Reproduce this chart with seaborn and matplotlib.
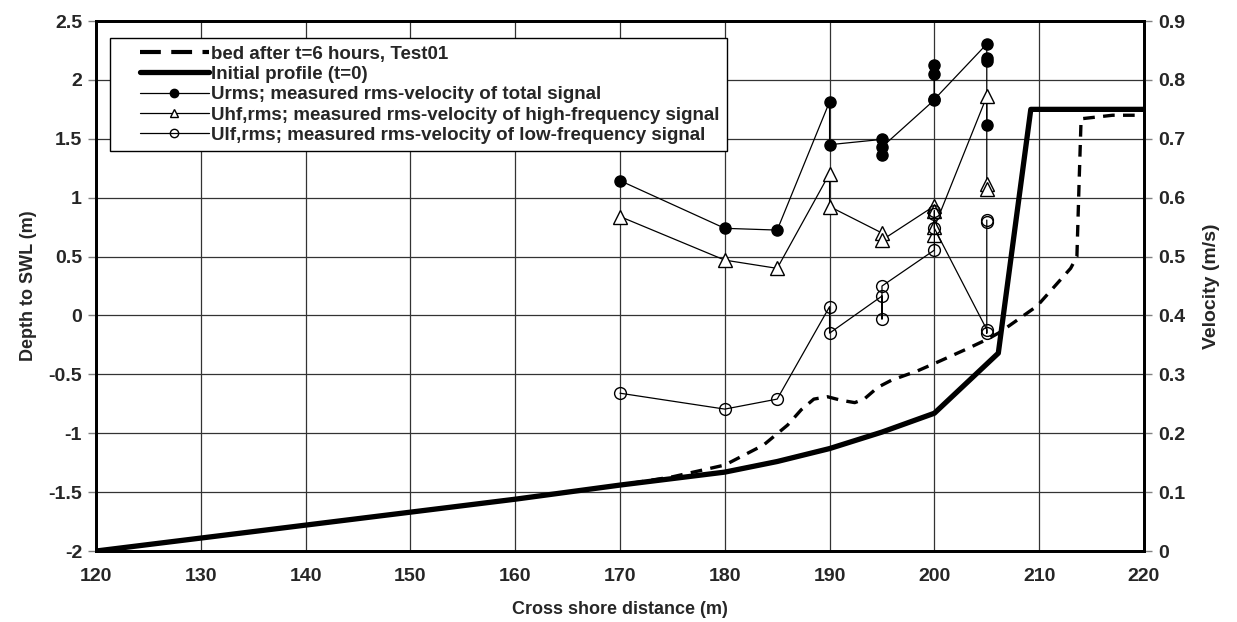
import matplotlib
matplotlib.use("Agg")
import matplotlib.pyplot as plt
import seaborn as sns
from matplotlib.ticker import FuncFormatter, MultipleLocator
from matplotlib.legend_handler import HandlerLine2D

# bed profiles, depth to SWL (m)
init_x = [120, 130, 140, 150, 160, 170, 180, 185, 190, 195, 200, 206.1, 209.2, 220]
init_y = [-2.0, -1.89, -1.78, -1.67, -1.56, -1.44, -1.33, -1.24, -1.13, -0.99, -0.83, -0.32, 1.75, 1.75]

bed_x = [120, 130, 140, 150, 160, 170, 175, 180, 183.7, 186, 187.3, 188.5, 189.8, 191.1, 192.4,
         193.3, 194.6, 195.9, 198.4, 200.2, 203.2, 205.1, 206.3, 209.8, 211.4, 213.0, 213.6,
         213.8, 214.0, 217, 220]
bed_y = [-2.0, -1.89, -1.78, -1.67, -1.56, -1.44, -1.37, -1.27, -1.10, -0.93, -0.80, -0.71, -0.69,
         -0.72, -0.74, -0.71, -0.61, -0.55, -0.47, -0.40, -0.28, -0.20, -0.14, 0.08, 0.24, 0.40,
         0.50, 1.10, 1.67, 1.70, 1.70]

# velocities (m/s), in the order they are joined
urms_x = [170, 180, 185, 190, 190, 195, 195, 195, 200, 200, 200, 200, 205, 205, 205, 205]
urms_v = [0.629, 0.548, 0.545, 0.763, 0.690, 0.699, 0.672, 0.686, 0.766, 0.826, 0.810, 0.767,
          0.861, 0.838, 0.832, 0.724]

uhf_x = [170, 180, 185, 190, 190, 195, 195, 200, 200, 200, 200, 205, 205, 205]
uhf_v = [0.568, 0.494, 0.480, 0.641, 0.585, 0.540, 0.528, 0.586, 0.577, 0.536, 0.550,
         0.772, 0.624, 0.614]

ulf_x = [170, 180, 185, 190, 190, 195, 195, 195, 200, 200, 200, 200, 205, 205, 205, 205]
ulf_v = [0.268, 0.241, 0.258, 0.415, 0.370, 0.433, 0.394, 0.450, 0.511, 0.578, 0.572, 0.548,
         0.376, 0.370, 0.558, 0.562]


class InsetHandler(HandlerLine2D):
    # draw the legend sample only over the right part of the handle box
    def create_artists(self, legend, orig_handle, xdescent, ydescent, width, height, fontsize, trans):
        off = width * 0.24
        return super().create_artists(legend, orig_handle, xdescent - off, ydescent,
                                      width - off, height, fontsize, trans)


sns.set_style("white")
plt.rcParams['font.family'] = ['Liberation Sans', 'DejaVu Sans']
plt.rcParams['font.weight'] = 'bold'
plt.rcParams['axes.unicode_minus'] = False

fig = plt.figure(figsize=(12.37, 6.22), dpi=100)
ax = fig.add_axes([0.0776, 0.1141, 0.8472, 0.8521])
ax2 = ax.twinx()

sns.lineplot(x=bed_x, y=bed_y, ax=ax, color='black', lw=2.4, linestyle=(0, (3.5, 2.5)),
             estimator=None, sort=False, legend=False, label='bed after t=6 hours, Test01')
sns.lineplot(x=init_x, y=init_y, ax=ax, color='black', lw=3.8,
             estimator=None, sort=False, legend=False, label='Initial profile (t=0)')

sns.lineplot(x=urms_x, y=urms_v, ax=ax2, color='black', lw=0.9, marker='o', markersize=8,
             markerfacecolor='black', markeredgecolor='black', markeredgewidth=1,
             estimator=None, sort=False, legend=False,
             label='Urms; measured rms-velocity of total signal')
sns.lineplot(x=uhf_x, y=uhf_v, ax=ax2, color='black', lw=0.9, marker='^', markersize=10,
             markerfacecolor='white', markeredgecolor='black', markeredgewidth=1,
             estimator=None, sort=False, legend=False,
             label='Uhf,rms; measured rms-velocity of high-frequency signal')
sns.lineplot(x=ulf_x, y=ulf_v, ax=ax2, color='black', lw=0.9, marker='o', markersize=8.5,
             markerfacecolor='none', markeredgecolor='black', markeredgewidth=1,
             estimator=None, sort=False, legend=False,
             label='Ulf,rms; measured rms-velocity of low-frequency signal')

ax.set_xlim(120, 220)
ax.set_ylim(-2, 2.5)
ax2.set_ylim(0, 0.9)
ax.xaxis.set_major_locator(MultipleLocator(10))
ax.yaxis.set_major_locator(MultipleLocator(0.5))
ax2.yaxis.set_major_locator(MultipleLocator(0.1))
fmt = FuncFormatter(lambda v, p: '%g' % round(v, 3))
ax.yaxis.set_major_formatter(fmt)
ax2.yaxis.set_major_formatter(fmt)

ax.grid(True, color='#333333', lw=0.9)
ax2.grid(False)
for a in (ax, ax2):
    for s in a.spines.values():
        s.set_color('black')
        s.set_linewidth(2)
    a.tick_params(axis='both', which='major', direction='out', length=6, width=1,
                  color='#808080', labelsize=14, pad=4)
ax.tick_params(axis='x', pad=6)

ax.set_xlabel('Cross shore distance (m)', fontsize=13, fontweight='bold', labelpad=12)
ax.set_ylabel('Depth to SWL (m)', fontsize=13, fontweight='bold', labelpad=8)
ax2.set_ylabel('Velocity (m/s)', fontsize=14, fontweight='bold', labelpad=13)

h1, l1 = ax.get_legend_handles_labels()
h2, l2 = ax2.get_legend_handles_labels()
leg = ax2.legend(h1 + h2, l1 + l2, loc='upper left', bbox_to_anchor=(0.0134, 0.968),
                 borderaxespad=0, fancybox=False, framealpha=1, edgecolor='black',
                 handlelength=4.9, handletextpad=0.1, labelspacing=0.17,
                 borderpad=0.4, prop={'weight': 'bold', 'size': 13.5},
                 handler_map={matplotlib.lines.Line2D: InsetHandler()})
leg.get_frame().set_linewidth(1)
leg.get_lines()[0].set_linestyle((0, (5, 2.5)))
leg.get_lines()[0].set_linewidth(3)
for ln in leg.get_lines()[2:]:
    ln.set_markersize(6)

fig.savefig('out.png', dpi=100, facecolor='white')
